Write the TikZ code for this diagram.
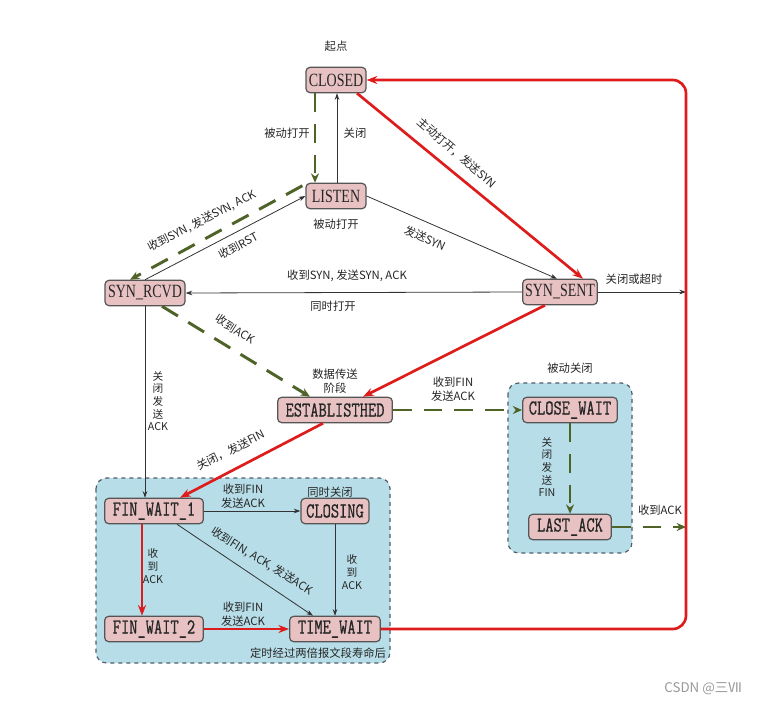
\documentclass[tikz,border=0pt]{standalone}
\usepackage{fontspec}
\usetikzlibrary{arrows.meta,calc}
\setmainfont{Liberation Serif}
\newfontfamily\cjk{Noto Sans CJK SC}
\newfontfamily\stser[FakeStretch=0.75]{Liberation Serif}
\newfontfamily\stmono[FakeStretch=0.75,FakeBold=0.8]{Latin Modern Mono}
\definecolor{nodefill}{RGB}{232,194,194}
\definecolor{nodeborder}{RGB}{85,85,85}
\definecolor{grpfill}{RGB}{183,222,232}
\definecolor{grpborder}{RGB}{80,92,102}
\definecolor{myred}{RGB}{222,28,28}
\definecolor{mygreen}{RGB}{79,98,40}
\tikzset{
 st/.style={draw=nodeborder, line width=0.9pt, fill=nodefill, rounded corners=3pt, minimum height=19pt, inner sep=0pt, text=black!85},
 ser/.style={st, font=\stser\fontsize{14}{14}\selectfont},
 mono/.style={st, font=\stmono\fontsize{16}{16}\selectfont},
 lbl/.style={font=\cjk\fontsize{8.5}{10.5}\selectfont, align=center, inner sep=0pt, text=black!85},
 vlbl/.style={lbl, font=\cjk\fontsize{8}{9.5}\selectfont},
 thinarr/.style={draw=black!80, line width=0.6pt, -{Stealth[length=5pt,width=3.5pt]}},
 redarr/.style={draw=myred, line width=2pt, -{Stealth[length=8pt,width=6pt]}},
 grnarr/.style={draw=mygreen, line width=2.2pt, dash pattern=on 14pt off 9pt, -{Stealth[length=7pt,width=6pt]}},
 grp/.style={draw=grpborder, dashed, line width=0.9pt, fill=grpfill, rounded corners=8pt},
}
\begin{document}
\begin{tikzpicture}[x=0.75pt,y=-0.75pt]
\useasboundingbox (0,0) rectangle (760,703);
\fill[white] (0,0) rectangle (760,703);
% groups
\draw[grp] (96,478) rectangle (390,663);
\draw[grp] (508,383) rectangle (632,553);
% states
\node[ser, minimum width=45pt] (CLOSED) at (336,80) {CLOSED};
\node[ser, minimum width=45pt] (LISTEN) at (336,196) {LISTEN};
\node[ser, minimum width=60pt] (SR) at (145,293) {SYN\_RCVD};
\node[ser, minimum width=56pt] (SS) at (560,292) {SYN\_SENT};
\node[mono, minimum width=86pt] (EST) at (335,410) {ESTABLISTHED};
\node[mono, minimum width=71pt] (CW) at (570,410) {CLOSE\_WAIT};
\node[mono, minimum width=62pt] (LA) at (570,527) {LAST\_ACK};
\node[mono, minimum width=74pt] (FW1) at (154,511) {FIN\_WAIT\_1};
\node[mono, minimum width=51pt] (CLG) at (335,511) {CLOSING};
\node[mono, minimum width=74pt] (FW2) at (154,629) {FIN\_WAIT\_2};
\node[mono, minimum width=68pt] (TW) at (335,629) {TIME\_WAIT};
\coordinate (rx) at (686,0);
% connectors
\draw[grnarr] ($(CLOSED.south)+(-21,0)$) -- ($(LISTEN.north)+(-21,0)$);
\draw[thinarr] ($(LISTEN.north)+(1,0)$) -- ($(CLOSED.south)+(1,0)$);
\draw[redarr] ($(CLOSED.south)+(21,0)$) -- ($(SS.north)+(23,0)$);
\draw[thinarr] (LISTEN.east) -- ($(SS.north)+(-3,0)$);
\draw[grnarr] ($(LISTEN.north west)+(-3,3)$) -- ($(SR.north)+(-15,0)$);
\draw[thinarr] (SR.north) -- (LISTEN.west);
\draw[thinarr] (SS.west) -- (SR.east);
\draw[thinarr] (SS.east) -- (SS.east -| rx);
\draw[grnarr] ($(SR.south)+(17,0)$) -- ($(EST.north)+(-25,0)$);
\draw[redarr] ($(SS.south)+(-15,0)$) -- ($(EST.north)+(28,0)$);
\draw[thinarr] (SR.south) -- (SR.south |- FW1.north);
\draw[redarr] ($(EST.south)+(-12,0)$) -- ($(FW1.north)+(26,0)$);
\draw[grnarr] (EST.east) -- (CW.west);
\draw[grnarr] (CW.south) -- (LA.north);
\draw[grnarr] (LA.east) -- (LA.east -| rx);
\draw[thinarr] (FW1.east) -- (CLG.west);
\draw[redarr] ($(FW1.south)+(-12,0)$) -- ($(FW2.north)+(-12,0)$);
\draw[thinarr] ($(FW1.south)+(23,0)$) -- ($(TW.north)+(-22,0)$);
\draw[thinarr] (CLG.south) -- (TW.north);
\draw[redarr] (FW2.east) -- (TW.west);
\draw[redarr, rounded corners=10pt] (TW.east) -- (TW.east -| rx) -- (CLOSED.east -| rx) -- (CLOSED.east);
% labels
\node[lbl] (t1) at (336,46) {起点};
\node[lbl] (t2) at (287,133) {被动打开};
\node[lbl] (t3) at (355,133) {关闭};
\node[lbl, rotate=-41] (t4) at (457,153) {主动打开，发送SYN};
\node[lbl] (t5) at (336,224) {被动打开};
\node[lbl, rotate=-24] (t6) at (425,238) {发送SYN};
\node[lbl, rotate=27] (t7) at (202,221) {收到SYN, 发送SYN, ACK};
\node[lbl, rotate=28] (t8) at (238,246) {收到RST};
\node[lbl] (t9) at (347,276) {收到SYN, 发送SYN, ACK};
\node[lbl] (t10) at (333,306) {同时打开};
\node[lbl] (t11) at (634,279) {关闭或超时};
\node[lbl, rotate=-32] (t12) at (235,329) {收到ACK};
\node[lbl] (t13) at (335,381) {数据传送\\阶段};
\node[lbl] (t14) at (453,389) {收到FIN\\发送ACK};
\node[lbl] (t15) at (570,368) {被动关闭};
\node[vlbl] (t16) at (547,467) {关\\闭\\发\\送\\FIN};
\node[lbl] (t17) at (660,510) {收到ACK};
\node[vlbl] (t18) at (158,401) {关\\闭\\发\\送\\ACK};
\node[lbl, rotate=27] (t19) at (231,450) {关闭，发送FIN};
\node[lbl] (t20) at (243,496) {收到FIN\\发送ACK};
\node[lbl] (t21) at (330,492) {同时关闭};
\node[vlbl] (t22) at (153,566) {收\\到\\ACK};
\node[lbl, rotate=-32] (t23) at (262,561) {收到FIN, ACK, 发送ACK};
\node[vlbl] (t24) at (352,572) {收\\到\\ACK};
\node[lbl] (t25) at (243,614) {收到FIN\\发送ACK};
\node[lbl] (t26) at (318,653) {定时经过两倍报文段寿命后};
\node[font=\cjk\fontsize{10}{10}\selectfont, text=black!40, inner sep=0pt] (wm) at (703,689) {CSDN @三Ⅶ};
\end{tikzpicture}
\end{document}
